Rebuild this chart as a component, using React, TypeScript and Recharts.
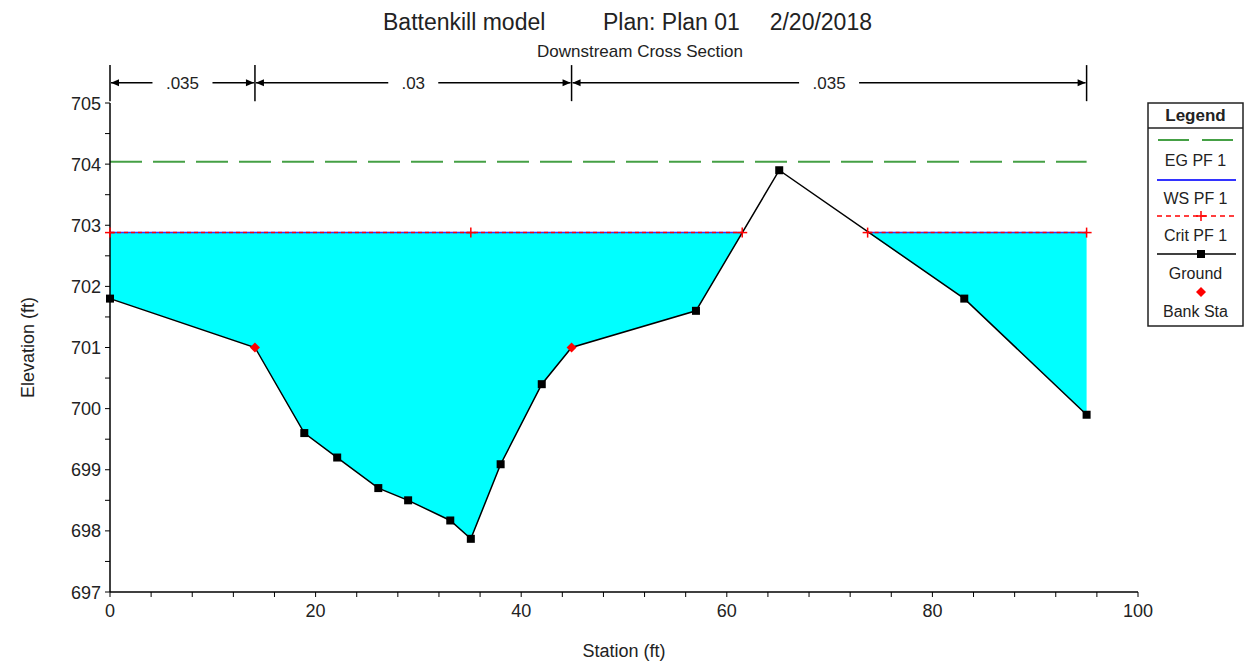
import React from "react";
import { ComposedChart, Area, Line, XAxis, YAxis, ReferenceLine } from "recharts";

// ground survey points
const groundStations = [0, 14.1, 18.9, 22.1, 26.1, 29.0, 33.1, 35.1, 38.0, 42.0, 44.9, 57.0, 65.1, 83.1, 95.0];
const groundElev = [701.8, 701.0, 699.6, 699.2, 698.7, 698.5, 698.17, 697.87, 699.09, 700.4, 701.0, 701.6, 703.9, 701.8, 699.9];
const bankStations = [14.1, 44.9];

const wsElev = 702.88;
const critElev = 702.88;
const egElev = 704.04;
const waterEdges = [
  [0, 61.5],
  [73.7, 95],
];
const critStations = [0, 35.1, 61.5, 73.7, 95];

// manning's n regions along the top
const nStations = [0, 14.1, 44.9, 95];
const nValues = [".035", ".03", ".035"];

const xTicks = [0, 4, 8, 12, 16, 20, 24, 28, 32, 36, 40, 44, 48, 52, 56, 60, 64, 68, 72, 76, 80, 84, 88, 92, 96, 100];
const yTicks = [697, 697.5, 698, 698.5, 699, 699.5, 700, 700.5, 701, 701.5, 702, 702.5, 703, 703.5, 704, 704.5, 705];

const FONT = '"Liberation Sans", Arial, Helvetica, sans-serif';

const allStations = Array.from(new Set([...groundStations, ...waterEdges.flat(), ...critStations])).sort((a, b) => a - b);

const rows = allStations.map((s) => {
  const gi = groundStations.indexOf(s);
  const ground = gi >= 0 ? groundElev[gi] : null;
  const wet = waterEdges.some(([a, b]) => s >= a && s <= b);
  return {
    station: s,
    ground,
    water: wet ? [ground ?? wsElev, wsElev] : null,
    ws: wet ? wsElev : null,
    crit: wet ? critElev : null,
    eg: egElev,
  };
});

function XTick(props: any) {
  const { x, y, payload } = props;
  if (payload.value % 20 !== 0) return <g />;
  return (
    <text x={x} y={y} dy={18} textAnchor="middle" fontSize={18} fontFamily={FONT} fill="#222">
      {payload.value}
    </text>
  );
}

function YTick(props: any) {
  const { x, y, payload } = props;
  if (!Number.isInteger(payload.value)) return <g />;
  return (
    <text x={x - 2} y={y} dy={6.5} textAnchor="end" fontSize={18} fontFamily={FONT} fill="#222">
      {payload.value}
    </text>
  );
}

function GroundDot(props: any) {
  const { cx, cy, payload } = props;
  if (payload.ground == null || cx == null || cy == null) return <g />;
  if (bankStations.includes(payload.station)) {
    return <polygon points={`${cx},${cy - 5} ${cx + 5},${cy} ${cx},${cy + 5} ${cx - 5},${cy}`} fill="#ff0000" />;
  }
  return <rect x={cx - 4} y={cy - 4} width={8} height={8} fill="#000" />;
}

function CritDot(props: any) {
  const { cx, cy, payload } = props;
  if (payload.crit == null || !critStations.includes(payload.station)) return <g />;
  return (
    <g stroke="#ff0000" strokeWidth={1.5}>
      <line x1={cx - 5} y1={cy} x2={cx + 5} y2={cy} />
      <line x1={cx} y1={cy - 5} x2={cx} y2={cy + 5} />
    </g>
  );
}

function NBracket(props: any) {
  const { x1, x2, y1, text } = props;
  const mid = (x1 + x2) / 2;
  const gap = text.length * 5 + 10;
  return (
    <g>
      <line x1={x1 + 1} y1={y1} x2={mid - gap} y2={y1} stroke="#000" strokeWidth={1.5} />
      <line x1={mid + gap} y1={y1} x2={x2 - 1} y2={y1} stroke="#000" strokeWidth={1.5} />
      <path d={`M${x1 + 1},${y1} l8,-3.5 l0,7 z`} fill="#000" />
      <path d={`M${x2 - 1},${y1} l-8,-3.5 l0,7 z`} fill="#000" />
      <text x={mid} y={y1} dy={6} textAnchor="middle" fontSize={17} fontFamily={FONT} fill="#222">
        {text}
      </text>
    </g>
  );
}

function Legend() {
  const cx = 1195.5;
  const t = { fontSize: 16, fontFamily: FONT, fill: "#222", textAnchor: "middle" as const };
  return (
    <g>
      <rect x={1148} y={103} width={95} height={223} fill="#fff" stroke="#222" strokeWidth={1.5} />
      <text x={cx} y={121} {...t} fontSize={17} fontWeight="bold">
        Legend
      </text>
      <line x1={1148} y1={128} x2={1243} y2={128} stroke="#222" strokeWidth={1.5} />
      <line x1={1158} y1={140} x2={1233} y2={140} stroke="#45a045" strokeWidth={2} strokeDasharray="31 13" />
      <text x={cx} y={166} {...t}>EG PF 1</text>
      <line x1={1157} y1={180} x2={1236} y2={180} stroke="#3333ff" strokeWidth={2} />
      <text x={cx} y={204} {...t}>WS PF 1</text>
      <line x1={1157} y1={216} x2={1236} y2={216} stroke="#ff0000" strokeWidth={1.5} strokeDasharray="5 4" />
      <line x1={1201} y1={211} x2={1201} y2={221} stroke="#ff0000" strokeWidth={1.5} />
      <line x1={1196} y1={216} x2={1206} y2={216} stroke="#ff0000" strokeWidth={1.5} />
      <text x={cx} y={241} {...t}>Crit PF 1</text>
      <line x1={1157} y1={254} x2={1236} y2={254} stroke="#000" strokeWidth={1.5} />
      <rect x={1197} y={250} width={8} height={8} fill="#000" />
      <text x={cx} y={279} {...t}>Ground</text>
      <polygon points="1201,287 1206,292 1201,297 1196,292" fill="#ff0000" />
      <text x={cx} y={317} {...t}>Bank Sta</text>
    </g>
  );
}

export default function App() {
  return (
    <div style={{ position: "absolute", left: 0, top: 0, width: 1256, height: 662, background: "#fff" }}>
      <ComposedChart width={1256} height={662} data={rows} margin={{ top: 103, right: 118, left: 0, bottom: 0 }}>
        <XAxis
          dataKey="station"
          type="number"
          domain={[0, 100]}
          ticks={xTicks}
          interval={0}
          height={70}
          tickSize={5}
          tick={<XTick />}
          axisLine={{ stroke: "#000", strokeWidth: 1.5 }}
          tickLine={{ stroke: "#000" }}
          label={{
            content: (p: any) => (
              <text
                x={p.viewBox.x + p.viewBox.width / 2}
                y={p.viewBox.y + 65}
                textAnchor="middle"
                fontSize={18}
                fontFamily={FONT}
                fill="#222"
              >
                Station (ft)
              </text>
            ),
          }}
        />
        <YAxis
          type="number"
          domain={[697, 705]}
          ticks={yTicks}
          interval={0}
          width={110}
          tickSize={5}
          tick={<YTick />}
          axisLine={{ stroke: "#000", strokeWidth: 1.5 }}
          tickLine={{ stroke: "#000" }}
          label={{
            content: (p: any) => (
              <text
                transform={`translate(${p.viewBox.x + 28},${p.viewBox.y + p.viewBox.height / 2}) rotate(-90)`}
                dy={6}
                textAnchor="middle"
                fontSize={18}
                fontFamily={FONT}
                fill="#222"
              >
                Elevation (ft)
              </text>
            ),
          }}
        />

        <Area
          dataKey="water"
          type="linear"
          fill="#00ffff"
          fillOpacity={1}
          stroke="none"
          connectNulls={false}
          dot={false}
          activeDot={false}
          isAnimationActive={false}
        />
        <Line dataKey="eg" type="linear" stroke="#45a045" strokeWidth={2} strokeDasharray="32 11" dot={false} activeDot={false} isAnimationActive={false} />
        <Line dataKey="ws" type="linear" stroke="#3333ff" strokeWidth={1.5} dot={false} activeDot={false} connectNulls={false} isAnimationActive={false} />
        <Line
          dataKey="crit"
          type="linear"
          stroke="#ff0000"
          strokeWidth={1.5}
          strokeDasharray="4 3"
          dot={<CritDot />}
          activeDot={false}
          connectNulls={false}
          isAnimationActive={false}
        />
        <Line
          dataKey="ground"
          type="linear"
          stroke="#000"
          strokeWidth={1.5}
          dot={<GroundDot />}
          activeDot={false}
          connectNulls
          isAnimationActive={false}
        />

        {nStations.map((s) => (
          <ReferenceLine
            key={`tick-${s}`}
            segment={[
              { x: s, y: 705.03 },
              { x: s, y: 705.62 },
            ]}
            stroke="#000"
            strokeWidth={1.5}
            ifOverflow="visible"
          />
        ))}
        {nValues.map((v, i) => (
          <ReferenceLine
            key={`n-${i}`}
            segment={[
              { x: nStations[i], y: 705.33 },
              { x: nStations[i + 1], y: 705.33 },
            ]}
            ifOverflow="visible"
            shape={(p: any) => <NBracket {...p} text={v} />}
          />
        ))}
      </ComposedChart>

      <svg width={1256} height={662} style={{ position: "absolute", left: 0, top: 0, pointerEvents: "none" }}>
        <g fontFamily={FONT} fill="#222">
          <text x={383} y={30} fontSize={23}>Battenkill model</text>
          <text x={603} y={30} fontSize={23}>Plan: Plan 01</text>
          <text x={872} y={30} fontSize={23} textAnchor="end">2/20/2018</text>
          <text x={640} y={57} fontSize={17} textAnchor="middle">Downstream Cross Section</text>
        </g>
        <Legend />
      </svg>
    </div>
  );
}
